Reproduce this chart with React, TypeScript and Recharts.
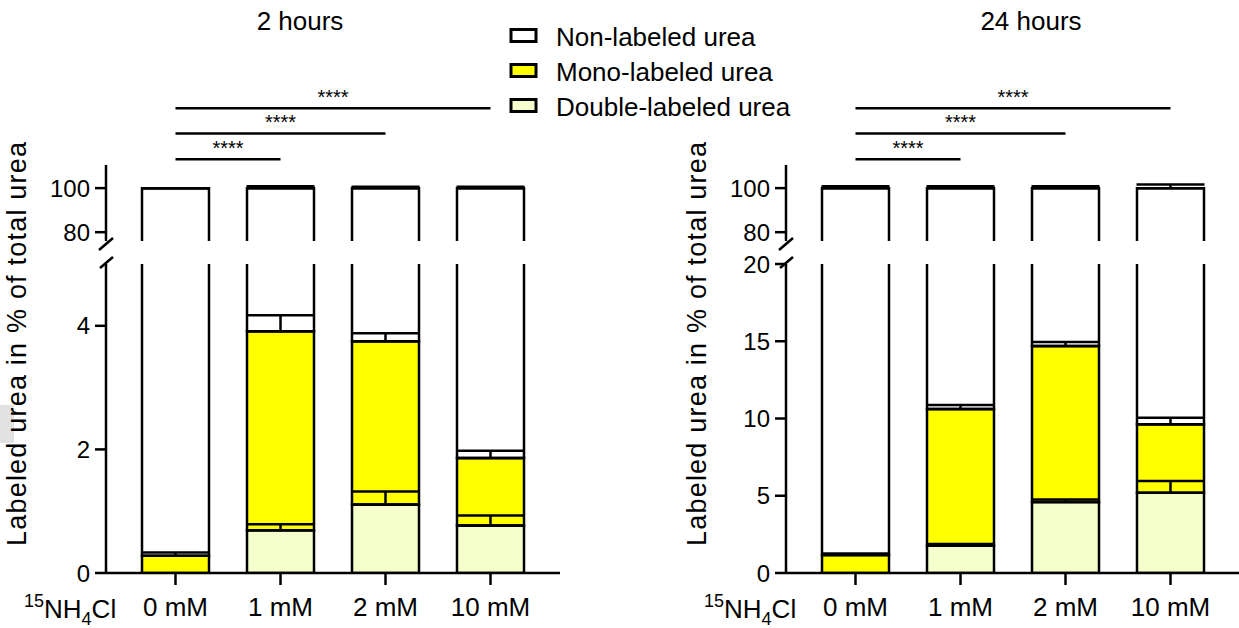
import React from 'react';
import { BarChart, Bar, XAxis, YAxis, ErrorBar, ReferenceLine, Legend } from 'recharts';

// ---------- data ----------
const categories = ['0 mM', '1 mM', '2 mM', '10 mM'];
const seriesNames = ['Non-labeled urea', 'Mono-labeled urea', 'Double-labeled urea'];
const seriesColors = ['#FFFFFF', '#FFFF00', '#F4FFCB'];

// 2 hours
const double2h = [0, 0.69, 1.11, 0.77];
const double2hErr = [0, 0.1, 0.21, 0.16];
const mono2h = [0.28, 3.22, 2.64, 1.09];
const total2hErr = [0.05, 0.26, 0.13, 0.12];
const non2hErr = [0, 0.8, 0.6, 0.6];

// 24 hours
const double24h = [0, 1.77, 4.6, 5.2];
const double24hErr = [0, 0.1, 0.16, 0.75];
const mono24h = [1.17, 8.84, 10.09, 4.42];
const total24hErr = [0.1, 0.26, 0.26, 0.43];
const non24hErr = [0.8, 0.8, 0.8, 1.6];

const upperTicks = [80, 100];
const lowerTicks2h = [0, 2, 4];
const lowerTicks24h = [0, 5, 10, 15, 20];

// significance brackets (y in % on upper axis)
const bracketTargets = ['1 mM', '2 mM', '10 mM'];
const bracketLevels = [113.1, 124.8, 136.3];
const bracketLabel = '****';

const FONT = '"Liberation Sans", Arial, Helvetica, sans-serif';
const LW = 2.5;

function buildRows(dbl: number[], dblErr: number[], mono: number[], totErr: number[], nonErr: number[]) {
  return categories.map((c, i) => {
    const total = dbl[i] + mono[i];
    return {
      cat: c,
      double: dbl[i],
      doubleErr: [0, dblErr[i]],
      mono: mono[i],
      monoErr: [0, totErr[i]],
      non: +(100 - total).toFixed(4),
      nonErr: [0, nonErr[i]],
    };
  });
}

const rows2h = buildRows(double2h, double2hErr, mono2h, total2hErr, non2hErr);
const rows24h = buildRows(double24h, double24hErr, mono24h, total24hErr, non24hErr);

const axisStyle = { stroke: '#000', strokeWidth: LW };
const yTick = { fill: '#000', fontSize: 24, fontFamily: FONT };
const xTick = { fill: '#000', fontSize: 26, fontFamily: FONT };

// bar shapes with an open side where the axis is broken
const OpenBottomBar = (p: any) => {
  const { x, y, width: w, height: h, fill } = p;
  if (w == null || h == null) return null;
  return (
    <g>
      <rect x={x} y={y} width={w} height={h} fill={fill} />
      <path d={`M${x},${y + h + 3}V${y}H${x + w}V${y + h + 3}`} fill="none" stroke="#000" strokeWidth={LW} />
    </g>
  );
};

const OpenTopBar = (p: any) => {
  const { x, y, width: w, height: h, fill } = p;
  if (w == null || h == null) return null;
  return (
    <g>
      <rect x={x} y={y} width={w} height={h} fill={fill} />
      <path d={`M${x},${y}V${y + h}H${x + w}V${y}`} fill="none" stroke="#000" strokeWidth={LW} />
    </g>
  );
};

const renderLegend = (props: any) => {
  const payload: any[] = props && props.payload ? props.payload : [];
  return (
    <svg width={300} height={110} style={{ overflow: 'visible' }}>
      {seriesNames.map((name, i) => {
        const p = payload.find((e) => e.value === name);
        const color = p && p.color ? p.color : seriesColors[i];
        const cy = 17 + i * 35;
        return (
          <g key={name}>
            <rect x={2} y={cy - 6.5} width={25} height={12} fill={color} stroke="#000" strokeWidth={3} />
            <text x={47} y={cy + 9.5} fontSize={26} fontFamily={FONT} fill="#000">
              {name}
            </text>
          </g>
        );
      })}
    </svg>
  );
};

type PanelProps = {
  rows: any[];
  left: number;
  width: number;
  rightMargin: number;
  lowerDomain: [number, number];
  lowerTicks: number[];
  showLegend?: boolean;
};

function Panel({ rows, left, width, rightMargin, lowerDomain, lowerTicks, showLegend }: PanelProps) {
  const barCommon = { stackId: 'a', stroke: '#000', strokeWidth: LW, barSize: 67, isAnimationActive: false } as any;
  return (
    <>
      <div style={{ position: 'absolute', left, top: 0 }}>
        <BarChart width={width} height={245} data={rows} margin={{ top: 165, right: rightMargin, bottom: 4, left: 0 }}>
          <XAxis dataKey="cat" hide padding={{ left: 17, right: 17 }} />
          <YAxis
            width={106}
            type="number"
            domain={[76, 110.5]}
            ticks={upperTicks}
            interval={0}
            allowDataOverflow
            axisLine={axisStyle}
            tickLine={axisStyle}
            tickSize={11}
            tickMargin={5}
            tick={yTick}
          />
          <Bar dataKey="double" name={seriesNames[2]} fill={seriesColors[2]} {...barCommon} />
          <Bar dataKey="mono" name={seriesNames[1]} fill={seriesColors[1]} {...barCommon} />
          <Bar dataKey="non" name={seriesNames[0]} fill={seriesColors[0]} {...barCommon} shape={OpenBottomBar}>
            <ErrorBar dataKey="nonErr" width={34} stroke="#000" strokeWidth={LW} direction="y" />
          </Bar>
          {bracketTargets.map((t, i) => (
            <ReferenceLine
              key={t}
              segment={[
                { x: categories[0], y: bracketLevels[i] },
                { x: t, y: bracketLevels[i] },
              ]}
              ifOverflow="visible"
              stroke="#000"
              strokeWidth={LW}
              label={{ value: bracketLabel, position: 'top', offset: 4, fontSize: 20, fill: '#000', fontFamily: FONT }}
            />
          ))}
          {showLegend && (
            <Legend
              layout="vertical"
              align="center"
              verticalAlign="middle"
              content={renderLegend}
              wrapperStyle={{ position: 'absolute', left: 509, top: 19, width: 300, height: 110 }}
            />
          )}
        </BarChart>
      </div>
      <div style={{ position: 'absolute', left, top: 250 }}>
        <BarChart width={width} height={378} data={rows} margin={{ top: 14, right: rightMargin, bottom: 0, left: 0 }}>
          <XAxis
            dataKey="cat"
            height={55}
            padding={{ left: 17, right: 17 }}
            axisLine={axisStyle}
            tickLine={axisStyle}
            tickSize={12}
            tickMargin={13}
            tick={xTick}
            interval={0}
          />
          <YAxis
            width={106}
            type="number"
            domain={lowerDomain}
            ticks={lowerTicks}
            interval={0}
            allowDataOverflow
            axisLine={axisStyle}
            tickLine={axisStyle}
            tickSize={11}
            tickMargin={5}
            tick={yTick}
          />
          <Bar dataKey="double" name={seriesNames[2]} fill={seriesColors[2]} {...barCommon}>
            <ErrorBar dataKey="doubleErr" width={34} stroke="#000" strokeWidth={LW} direction="y" />
          </Bar>
          <Bar dataKey="mono" name={seriesNames[1]} fill={seriesColors[1]} {...barCommon}>
            <ErrorBar dataKey="monoErr" width={34} stroke="#000" strokeWidth={LW} direction="y" />
          </Bar>
          <Bar dataKey="non" name={seriesNames[0]} fill={seriesColors[0]} {...barCommon} shape={OpenTopBar} />
        </BarChart>
      </div>
    </>
  );
}

function Decorations() {
  const yLabel = 'Labeled urea in % of total urea';
  const panels = [0, 680];
  return (
    <svg width={1239} height={628} style={{ position: 'absolute', left: 0, top: 0, pointerEvents: 'none' }}>
      <rect x={0} y={405} width={14} height={38} fill="#e2e2e2" />
      <text x={300} y={30} fontSize={26} fontFamily={FONT} textAnchor="middle" fill="#000">2 hours</text>
      <text x={1031} y={30} fontSize={26} fontFamily={FONT} textAnchor="middle" fill="#000">24 hours</text>
      {panels.map((dx) => (
        <g key={dx}>
          <text
            transform={`translate(${26 + dx},344) rotate(-90)`}
            fontSize={27}
            fontFamily={FONT}
            textAnchor="middle"
            fill="#000"
            textLength={404}
            lengthAdjust="spacing"
          >
            {yLabel}
          </text>
          <text x={24 + dx} y={618} fontSize={26} fontFamily={FONT} fill="#000">
            <tspan fontSize={18} dy={-11}>15</tspan>
            <tspan dy={11}>NH</tspan>
            <tspan fontSize={18} dy={7}>4</tspan>
            <tspan dy={-7}>Cl</tspan>
          </text>
          <line x1={99 + dx} y1={250} x2={113 + dx} y2={238} stroke="#000" strokeWidth={LW} />
          <line x1={100 + dx} y1={268} x2={113 + dx} y2={257} stroke="#000" strokeWidth={LW} />
        </g>
      ))}
    </svg>
  );
}

export default function App() {
  return (
    <div style={{ position: 'absolute', left: 0, top: 0, width: 1239, height: 628, overflow: 'hidden', background: '#fff', fontFamily: FONT }}>
      <Panel rows={rows2h} left={0} width={570} rightMargin={10} lowerDomain={[0, 5]} lowerTicks={lowerTicks2h} showLegend />
      <Panel rows={rows24h} left={680} width={560} rightMargin={0} lowerDomain={[0, 20]} lowerTicks={lowerTicks24h} />
      <Decorations />
    </div>
  );
}
